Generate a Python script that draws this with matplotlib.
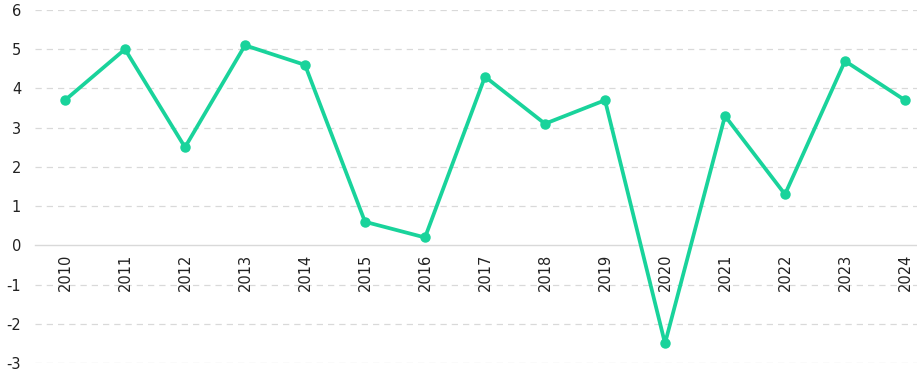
import matplotlib
matplotlib.use("Agg")
import matplotlib.pyplot as plt

years = [2010, 2011, 2012, 2013, 2014, 2015, 2016, 2017, 2018, 2019, 2020, 2021, 2022, 2023, 2024]
values = [3.7, 5.0, 2.5, 5.1, 4.6, 0.6, 0.2, 4.3, 3.1, 3.7, -2.5, 3.3, 1.3, 4.7, 3.7]
y_ticks = [-3, -2, -1, 0, 1, 2, 3, 4, 5, 6]

line_color = "#19d39b"
grid_color = "#d9d9d9"

fig = plt.figure(figsize=(9.17, 3.72), dpi=100)
ax = fig.add_axes([35 / 917, 9 / 372, 1 - 35 / 917, 353 / 372])

for side in ["top", "right", "left"]:
    ax.spines[side].set_visible(False)
ax.spines["bottom"].set_position(("data", 0))
ax.spines["bottom"].set_color(grid_color)
ax.spines["bottom"].set_linewidth(1.0)

ax.plot(years, values, color=line_color, linewidth=2.7, marker="o",
        markersize=6.5, zorder=3)

ax.set_ylim(-3, 6)
ax.set_xlim(2009.5, 2024.2)
ax.set_yticks(y_ticks)
ax.set_yticklabels([str(v) for v in y_ticks])
ax.set_xticks(years)
ax.set_xticklabels([str(y) for y in years])

# dashed grid, except the solid zero line
for v in y_ticks:
    if v == 0:
        continue
    ax.axhline(v, color=grid_color, linewidth=0.9, linestyle=(0, (5, 4)), zorder=1)

ax.tick_params(axis="x", length=0, pad=6, labelsize=10.5, colors="#222222",
               labelrotation=90)
ax.tick_params(axis="y", length=0, pad=10, labelsize=10.5, colors="#222222")

fig.savefig("out.png", dpi=100)
